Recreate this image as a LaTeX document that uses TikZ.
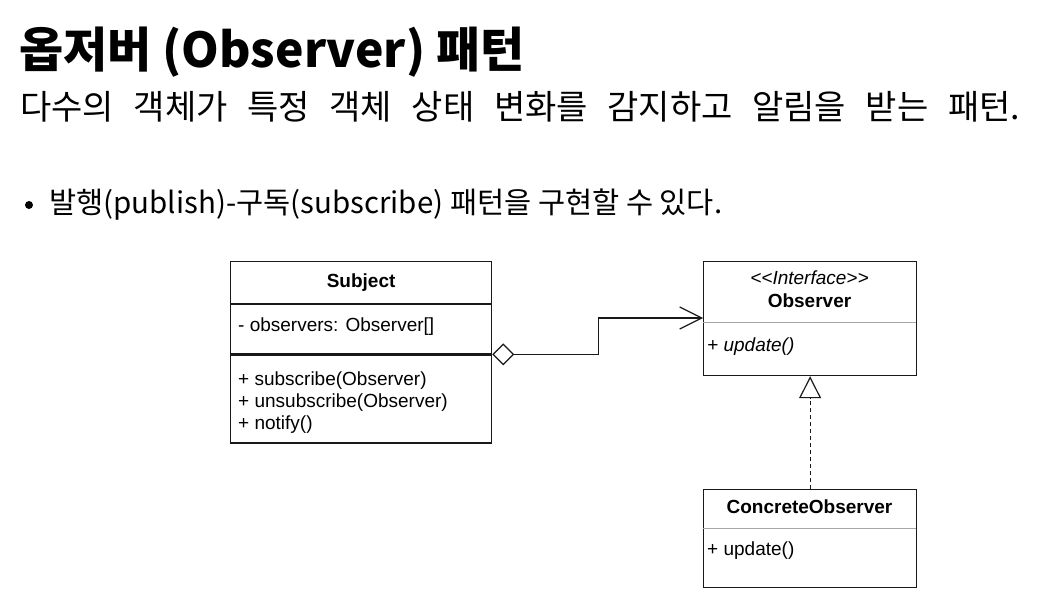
\documentclass[tikz,border=0pt]{standalone}
\usepackage{fontspec}
\setmainfont{Liberation Sans}
\newfontfamily\kr{Noto Sans CJK KR}
\usetikzlibrary{arrows.meta}

\tikzset{
  umlline/.style={line width=1.2pt, draw=black!90},
  compart/.style={umlline, rectangle, inner sep=0pt, anchor=north west},
  umltext/.style={inner sep=0pt, font=\fontsize{19}{22}\selectfont, text=black},
  headtext/.style={umltext, font=\fontsize{19}{22}\selectfont\bfseries},
  lightsep/.style={line width=1pt, draw=black!35},
  aggregation/.style={umlline, {Diamond[open, length=22pt, width=22pt, line width=1.2pt]}-{Straight Barb[length=22pt, width=22pt, line width=1.2pt]}},
  realization/.style={umlline, dash pattern=on 4pt off 3pt, -{Triangle[open, length=22pt, width=22pt, line width=1.2pt, sep=0pt]}},
}

\begin{document}
\begin{tikzpicture}[x=1pt, y=-1pt]
  \useasboundingbox (0,0) rectangle (1040,599);

  % heading
  \node[anchor=base west, inner sep=0pt, font=\kr\fontsize{48}{52}\selectfont\bfseries]
    (title) at (19,68) {옵저버 (Observer) 패턴};
  \node[anchor=base west, inner sep=0pt, font=\kr\fontsize{34}{38}\selectfont]
    (subtitle) at (20,120) {\makebox[1000pt][s]{다수의 객체가 특정 객체 상태 변화를 감지하고 알림을 받는 패턴.}};

  % bullet point
  \node[anchor=center, inner sep=0pt, circle, fill=black, minimum size=8pt] (dot) at (29,205) {};
  \node[anchor=base west, inner sep=0pt, font=\kr\fontsize{29.5}{33}\selectfont]
    (bullet) at (49,213) {발행(publish)-구독(subscribe) 패턴을 구현할 수 있다.};

  % Subject class
  \node[compart, minimum width=261pt, minimum height=42pt] (subjhead) at (230,261) {};
  \node[compart, minimum width=261pt, minimum height=49pt] (subjattr) at (subjhead.south west) {};
  \node[compart, minimum width=261pt, minimum height=88pt] (subjops) at (subjattr.south west) {};
  \node[headtext] (subjname) at (subjhead.center) {Subject};
  \node[umltext, anchor=west] (subjfield) at (238,327) {- observers: Observer[]};
  \node[umltext, anchor=west] (subjm1) at (238,381) {+ subscribe(Observer)};
  \node[umltext, anchor=west] (subjm2) at (238,403) {+ unsubscribe(Observer)};
  \node[umltext, anchor=west] (subjm3) at (238,425) {+ notify()};

  % Observer interface
  \node[compart, minimum width=213pt, minimum height=114pt] (obs) at (703,261) {};
  \draw[lightsep] (703,322) -- (916,322);
  \node[umltext, font=\fontsize{19}{22}\selectfont\itshape] (stereo) at (809.5,278) {{<}{<}Interface{>}{>}};
  \node[headtext] (obsname) at (809.5,301) {Observer};
  \node[umltext, anchor=west, font=\fontsize{19}{22}\selectfont\itshape] (obsop) at (707,347) {+ update()};
  \coordinate (obsport) at ([yshift=-57pt]obs.north west);

  % ConcreteObserver class
  \node[compart, minimum width=213pt, minimum height=98pt] (conc) at (703,489) {};
  \draw[lightsep] (703,528) -- (916,528);
  \node[headtext] (concname) at (809.5,507) {ConcreteObserver};
  \node[umltext, anchor=west] (concop) at (707,551) {+ update()};

  % relations
  \draw[aggregation] (subjops.north east) -- ++(106,0) |- (obsport);
  \draw[realization] (conc.north) -- (obs.south);
\end{tikzpicture}
\end{document}
